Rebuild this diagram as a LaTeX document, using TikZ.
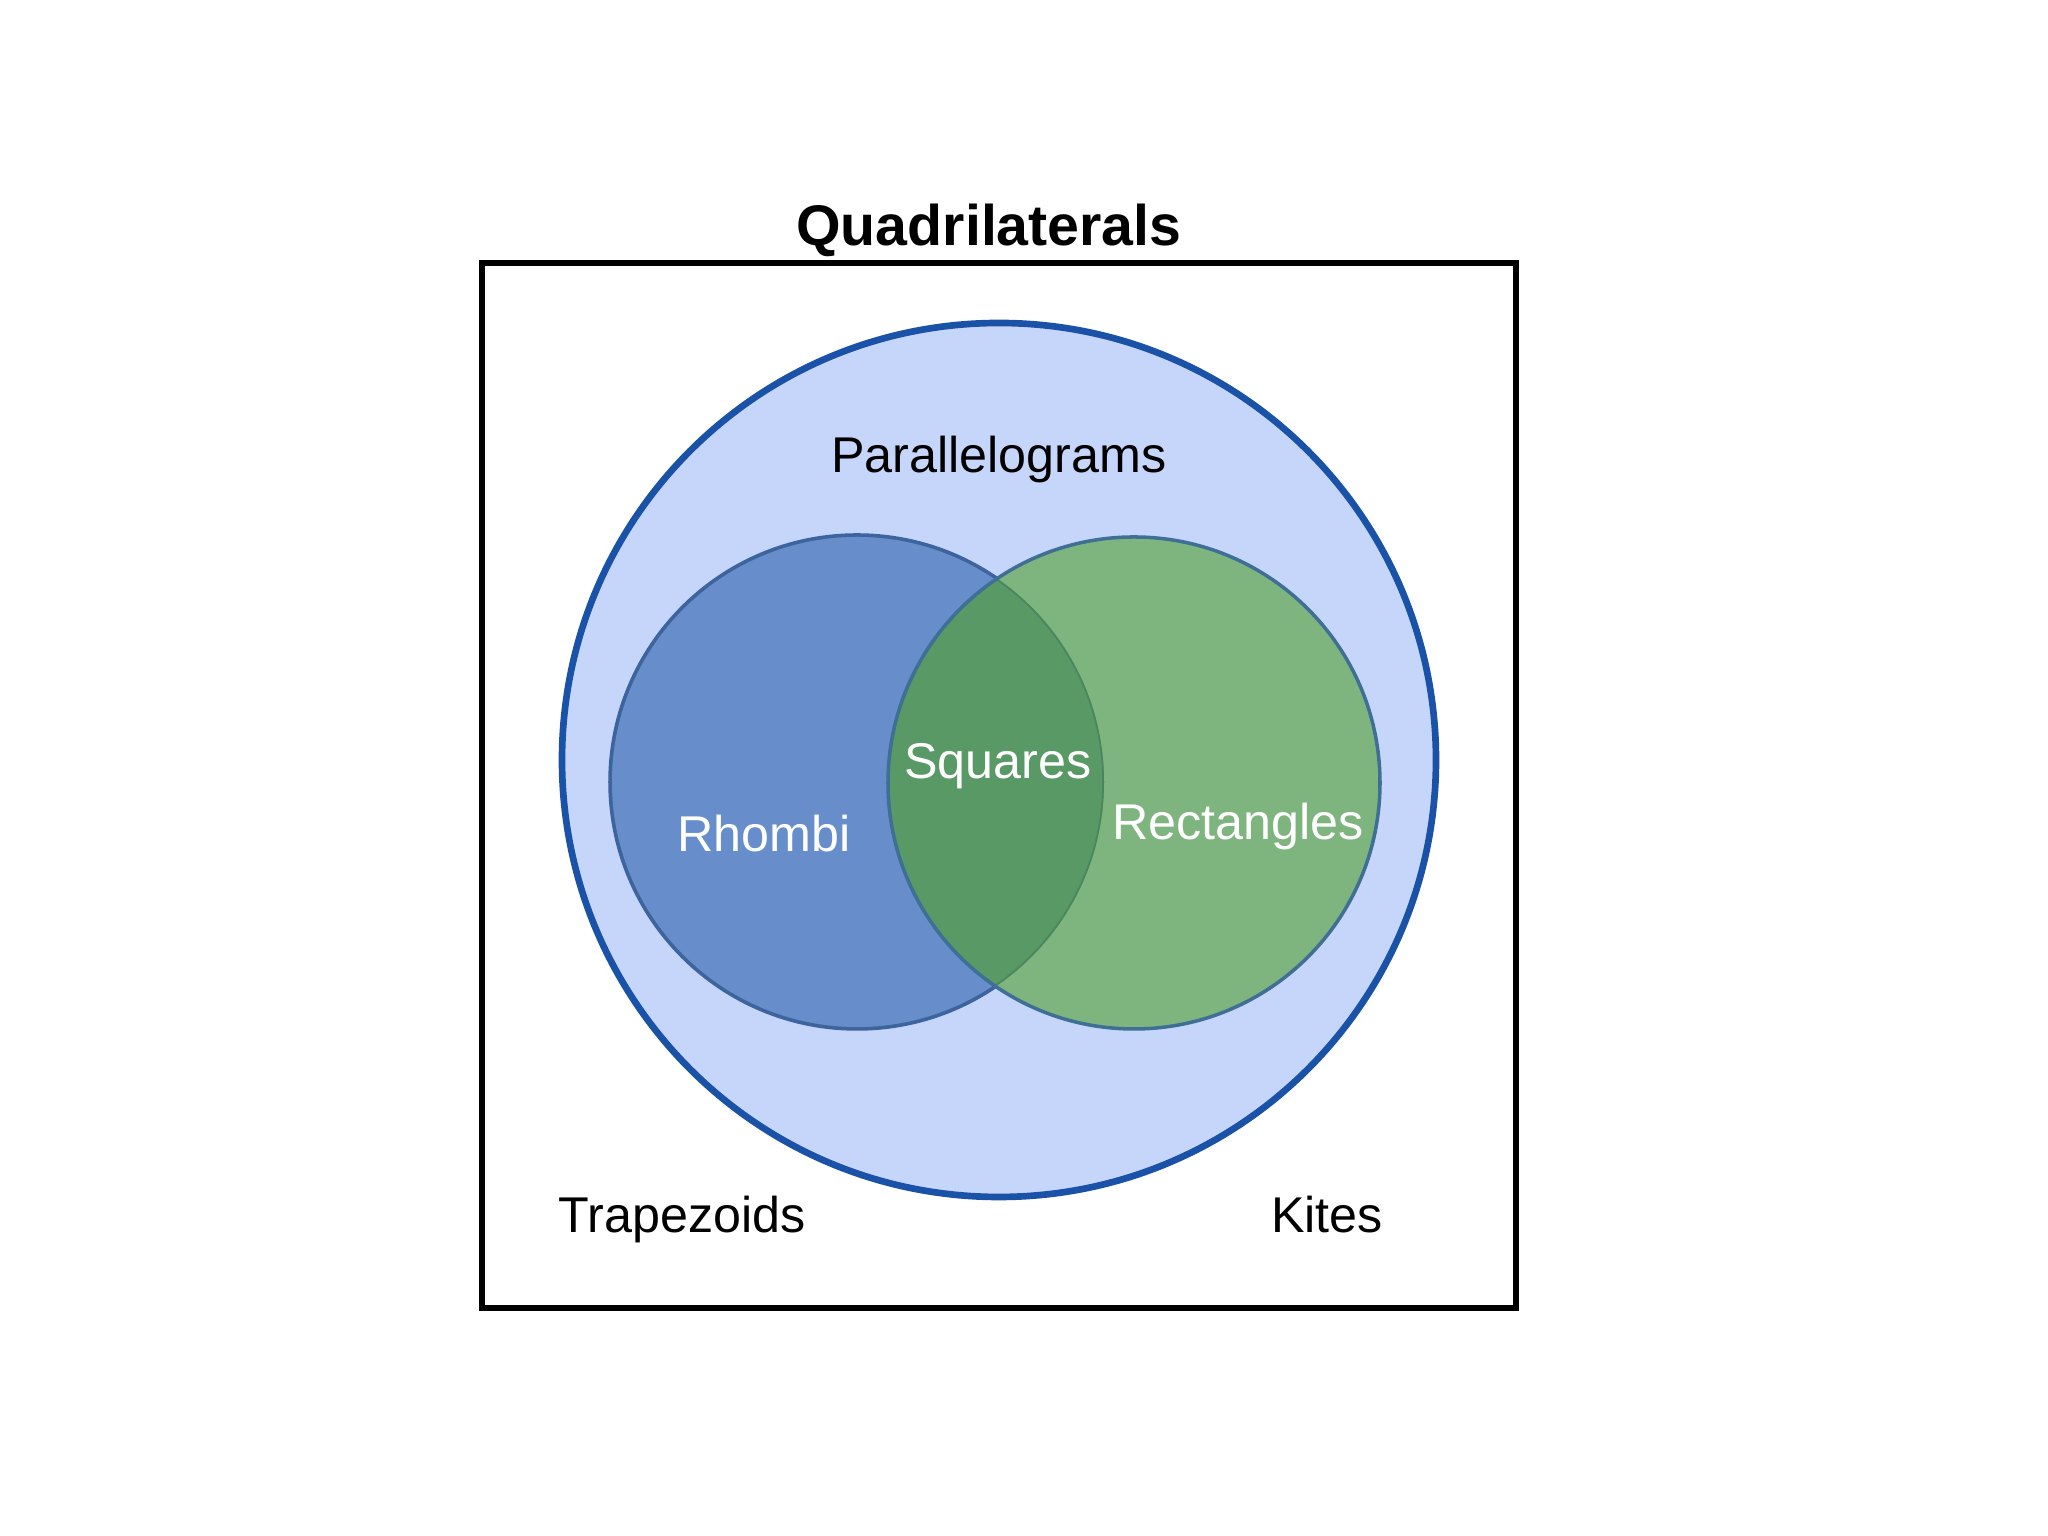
\documentclass[tikz,border=0pt]{standalone}
\usepackage{fontspec}
\setmainfont{Liberation Sans}
\begin{document}
\begin{tikzpicture}[
  lbl/.style={font=\fontsize{14.3}{17}\selectfont, inner sep=0pt, text=black, anchor=base},
  wlbl/.style={lbl, text=white},
]
\definecolor{paraFill}{HTML}{C6D6FA}
\definecolor{paraLine}{HTML}{1A52A8}
\definecolor{rhFill}{HTML}{678DCB}
\definecolor{rhLine}{HTML}{3D64A0}
\definecolor{reFill}{HTML}{7EB57E}
\definecolor{reLine}{HTML}{3F6F95}
\definecolor{sqFill}{HTML}{589966}
\definecolor{sqLine}{HTML}{4A8660}
\useasboundingbox (0,0) rectangle (20.48,15.36);
% outer box
\node[draw=black, line width=1.7pt, minimum width=10.34cm, minimum height=10.45cm, inner sep=0pt] (box) at (9.99,7.50) {};
\node[font=\bfseries\fontsize{16.3}{19}\selectfont, inner sep=0pt, anchor=base] (title) at (9.89,12.90) {Quadrilaterals};
% parallelograms
\node[circle, draw=paraLine, fill=paraFill, line width=1.9pt, minimum size=8.74cm, inner sep=0pt] (para) at (9.99,7.76) {};
% rhombi and rectangles
\fill[rhFill] (8.57,7.54) circle (2.47);
\fill[reFill] (11.34,7.53) circle (2.46);
\begin{scope}
  \clip (8.57,7.54) circle (2.47);
  \fill[sqFill] (11.34,7.53) circle (2.46);
  \draw[sqLine, line width=1pt] (8.57,7.54) circle (2.47);
\end{scope}
\begin{scope}[even odd rule]
  \clip (-1,-1) rectangle (22,17) (11.34,7.53) circle (2.46);
  \draw[rhLine, line width=1pt] (8.57,7.54) circle (2.47);
\end{scope}
\draw[reLine, line width=1pt] (11.34,7.53) circle (2.46);
\node[circle, minimum size=4.94cm, inner sep=0pt] (rh) at (8.57,7.54) {};
\node[circle, minimum size=4.92cm, inner sep=0pt] (re) at (11.34,7.53) {};
% labels
\node[lbl] (parlbl) at (9.99,10.63) {Parallelograms};
\node[wlbl] (sq) at (9.98,7.57) {Squares};
\node[wlbl] (rhlbl) at (7.64,6.84) {Rhombi};
\node[wlbl] (relbl) at (12.38,6.96) {Rectangles};
\node[lbl] (trap) at (6.82,3.03) {Trapezoids};
\node[lbl] (kite) at (13.27,3.03) {Kites};
\end{tikzpicture}
\end{document}
